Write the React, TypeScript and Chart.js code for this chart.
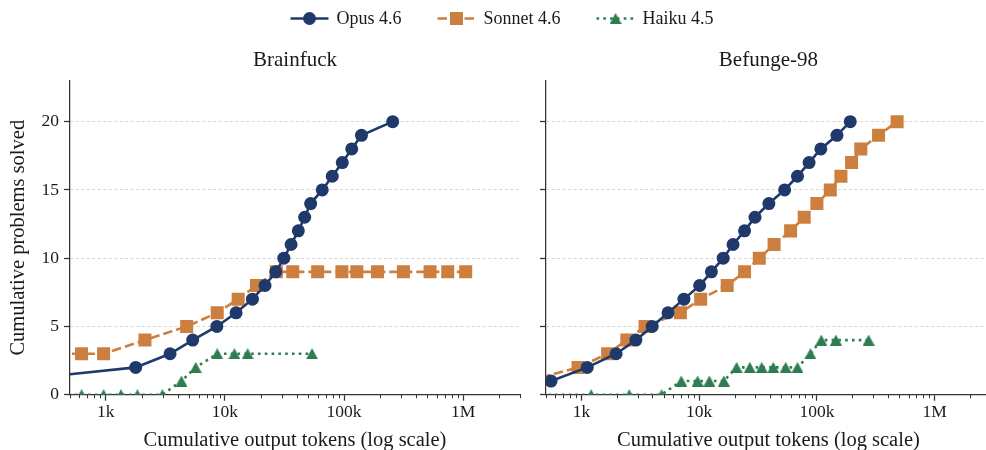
import React, { useEffect, useRef } from 'react';
import { Chart, registerables } from 'chart.js';

Chart.register(...registerables);

const FONT = "'Liberation Serif', 'Times New Roman', serif";
const TEXT = '#1a1a1a';
const AXIS = '#333333';
const GRID = '#cccccc';
const C_OPUS = '#1f396b';
const C_SONNET = '#cc7f3e';
const C_HAIKU = '#2e7d50';

// ---- data ----
const seriesNames = ['Opus 4.6', 'Sonnet 4.6', 'Haiku 4.5'];
const panelTitles = ['Brainfuck', 'Befunge-98'];
const xAxisTitle = 'Cumulative output tokens (log scale)';
const yAxisTitle = 'Cumulative problems solved';
const xTickValues = [1e3, 1e4, 1e5, 1e6];
const xTickLabels = ['1k', '10k', '100k', '1M'];
const xMinorMultipliers = [2, 3, 4, 5, 6, 7, 8, 9];
const xMinorExponents = [2, 3, 4, 5, 6];
const yTickValues = [0, 5, 10, 15, 20];

const bfOpusTokens = [145, 1780, 3460, 5360, 8550, 12400, 17000, 21700, 26700, 31200, 35900, 41300, 46700, 52400, 65600, 79600, 96600, 116000, 140000, 256000];
const bfOpusSolved = [1, 2, 3, 4, 5, 6, 7, 8, 9, 10, 11, 12, 13, 14, 15, 16, 17, 18, 19, 20];
const bfSonnetTokens = [400, 625, 957, 2130, 4770, 8610, 12900, 18400, 27000, 37100, 60000, 95900, 128000, 191000, 315000, 527000, 742000, 1050000];
const bfSonnetSolved = [3, 3, 3, 4, 5, 6, 7, 8, 9, 9, 9, 9, 9, 9, 9, 9, 9, 9];
const bfHaikuTokens = [420, 625, 957, 1340, 1840, 2980, 4310, 5680, 8610, 12000, 15500, 53800];
const bfHaikuSolved = [0, 0, 0, 0, 0, 0, 1, 2, 3, 3, 3, 3];

const bgOpusTokens = [552, 1120, 1970, 2900, 3990, 5440, 7420, 10100, 12700, 16000, 19400, 24300, 29800, 39100, 53200, 68400, 85800, 108000, 148000, 192000];
const bgOpusSolved = [1, 2, 3, 4, 5, 6, 7, 8, 9, 10, 11, 12, 13, 14, 15, 16, 17, 18, 19, 20];
const bgSonnetTokens = [350, 936, 1670, 2430, 3470, 6920, 10300, 17300, 24300, 32400, 43300, 59800, 78000, 100000, 130000, 160000, 197000, 236000, 334000, 480000];
const bgSonnetSolved = [1, 2, 3, 4, 5, 6, 7, 8, 9, 10, 11, 12, 13, 14, 15, 16, 17, 18, 19, 20];
const bgHaikuTokens = [400, 1210, 2550, 4790, 7050, 9700, 12200, 16200, 20800, 26900, 34000, 42600, 54300, 68400, 88100, 109000, 145000, 275000];
const bgHaikuSolved = [0, 0, 0, 0, 1, 1, 1, 1, 2, 2, 2, 2, 2, 2, 3, 4, 4, 4];

const X_MIN = 500;
const X_MAX = 3e6;
const Y_MIN = 0;
const Y_MAX = 23;

// ---- styles ----
const LINE_W = 2.6;
const OPUS_DASH: number[] = [];
const SONNET_DASH = [9.5, 4];
const HAIKU_DASH = [2.6, 4.2];
const CIRCLE_R = 6.5;
const RECT_R = 9.2;

function triangleImage(color: string, w: number, h: number) {
  const c = document.createElement('canvas');
  c.width = w;
  c.height = h;
  const g = c.getContext('2d')!;
  g.fillStyle = color;
  g.beginPath();
  g.moveTo(w / 2, 0);
  g.lineTo(w, h);
  g.lineTo(0, h);
  g.closePath();
  g.fill();
  return c;
}

function zip(xs: number[], ys: number[]) {
  return xs.map((x, i) => ({ x, y: ys[i] }));
}

function makeDatasets(
  oT: number[], oS: number[], sT: number[], sS: number[], hT: number[], hS: number[], tri: HTMLCanvasElement
) {
  return [
    {
      label: seriesNames[0], data: zip(oT, oS), borderColor: C_OPUS, backgroundColor: C_OPUS,
      borderWidth: LINE_W, borderDash: OPUS_DASH, pointStyle: 'circle', pointRadius: CIRCLE_R,
      pointBorderWidth: 0, pointBackgroundColor: C_OPUS, tension: 0, order: 0,
    },
    {
      label: seriesNames[1], data: zip(sT, sS), borderColor: C_SONNET, backgroundColor: C_SONNET,
      borderWidth: LINE_W, borderDash: SONNET_DASH, pointStyle: 'rect', pointRadius: RECT_R,
      pointBorderWidth: 0, pointBackgroundColor: C_SONNET, tension: 0, order: 1,
    },
    {
      label: seriesNames[2], data: zip(hT, hS), borderColor: C_HAIKU, backgroundColor: C_HAIKU,
      borderWidth: LINE_W, borderDash: HAIKU_DASH, pointStyle: tri, pointRadius: 6,
      pointBorderWidth: 0, pointBackgroundColor: C_HAIKU, tension: 0, order: 2,
    },
  ];
}

const minorTicksPlugin = {
  id: 'minorTicks',
  afterDraw(chart: any) {
    const s = chart.scales.x;
    const ctx = chart.ctx;
    const b = chart.chartArea.bottom;
    ctx.save();
    ctx.strokeStyle = AXIS;
    ctx.lineWidth = 1;
    for (const e of xMinorExponents) {
      for (const k of xMinorMultipliers) {
        const v = k * Math.pow(10, e);
        if (v < s.min || v > s.max) continue;
        const px = Math.round(s.getPixelForValue(v)) + 0.5;
        ctx.beginPath();
        ctx.moveTo(px, b);
        ctx.lineTo(px, b + 3.5);
        ctx.stroke();
      }
    }
    ctx.restore();
  },
};

function drawMarker(ctx: CanvasRenderingContext2D, style: any, x: number, y: number, r: number, color: string) {
  ctx.fillStyle = color;
  if (typeof style !== 'string') {
    ctx.drawImage(style, x - style.width / 2, y - style.height / 2);
    return;
  }
  ctx.beginPath();
  if (style === 'circle') {
    ctx.arc(x, y, r, 0, Math.PI * 2);
  } else {
    const s = r * Math.SQRT1_2;
    ctx.rect(x - s, y - s, 2 * s, 2 * s);
  }
  ctx.fill();
}

function makeLegendPlugin(centerX: number, y: number) {
  return {
    id: 'figLegend',
    afterDraw(chart: any) {
      const ctx: CanvasRenderingContext2D = chart.ctx;
      const ds = chart.data.datasets;
      ctx.save();
      ctx.font = `18px ${FONT}`;
      const handle = 38;
      const pad = 8;
      const spacing = 36;
      const widths = ds.map((d: any) => ctx.measureText(d.label).width);
      const total = widths.reduce((a: number, w: number) => a + handle + pad + w, 0) + spacing * (ds.length - 1);
      let x = centerX - total / 2;
      ds.forEach((d: any, i: number) => {
        ctx.strokeStyle = d.borderColor;
        ctx.lineWidth = d.borderWidth;
        ctx.setLineDash(d.borderDash || []);
        ctx.beginPath();
        ctx.moveTo(x, y);
        ctx.lineTo(x + handle, y);
        ctx.stroke();
        ctx.setLineDash([]);
        drawMarker(ctx, d.pointStyle, x + handle / 2, y, d.pointRadius, d.pointBackgroundColor);
        ctx.fillStyle = TEXT;
        ctx.textAlign = 'left';
        ctx.textBaseline = 'middle';
        ctx.fillText(d.label, x + handle + pad, y + 1);
        x += handle + pad + widths[i] + spacing;
      });
      ctx.restore();
    },
  };
}

function makeOptions(title: string, showYLabels: boolean, yWidth: number, padRight: number) {
  return {
    responsive: false,
    animation: false as const,
    events: [] as any[],
    layout: { padding: { top: 48.3, left: 0, right: padRight, bottom: 0 } },
    plugins: {
      legend: { display: false },
      tooltip: { enabled: false },
      title: {
        display: true,
        text: title,
        fullSize: false,
        color: TEXT,
        font: { family: FONT, size: 21, weight: 'normal' as const, lineHeight: 1.2 },
        padding: { top: 0, bottom: 7.2 },
      },
    },
    scales: {
      x: {
        type: 'logarithmic' as const,
        min: X_MIN,
        max: X_MAX,
        afterBuildTicks: (s: any) => {
          s.ticks = xTickValues.map((v) => ({ value: v, major: true }));
        },
        afterFit: (s: any) => {
          s.height = 55.3;
        },
        ticks: {
          autoSkip: false,
          maxRotation: 0,
          minRotation: 0,
          padding: 1,
          color: TEXT,
          font: { family: FONT, size: 17.5 },
          callback: (v: any) => {
            const i = xTickValues.indexOf(Number(v));
            return i >= 0 ? xTickLabels[i] : '';
          },
        },
        grid: { drawOnChartArea: false, drawTicks: true, tickLength: 6, tickColor: AXIS, tickWidth: 1.25 },
        border: { display: true, color: AXIS, width: 1.25 },
        title: {
          display: true,
          text: xAxisTitle,
          color: TEXT,
          font: { family: FONT, size: 20.5, lineHeight: 1.2 },
          padding: { top: 0, bottom: -3 },
        },
      },
      y: {
        type: 'linear' as const,
        min: Y_MIN,
        max: Y_MAX,
        afterBuildTicks: (s: any) => {
          s.ticks = yTickValues.map((v) => ({ value: v }));
        },
        afterFit: (s: any) => {
          s.width = yWidth;
        },
        ticks: {
          display: showYLabels,
          padding: 5,
          color: TEXT,
          font: { family: FONT, size: 17.5 },
        },
        grid: { color: GRID, lineWidth: 0.8, drawTicks: true, tickLength: 6, tickColor: AXIS, tickWidth: 1.25 },
        border: { display: true, color: AXIS, width: 1.25, dash: [3, 2.5] },
        title: {
          display: showYLabels,
          text: yAxisTitle,
          color: TEXT,
          font: { family: FONT, size: 20.5, lineHeight: 1.2 },
          padding: { top: 6, bottom: 0 },
        },
      },
    },
  };
}

export default function App() {
  const leftRef = useRef<HTMLCanvasElement | null>(null);
  const rightRef = useRef<HTMLCanvasElement | null>(null);

  useEffect(() => {
    Chart.defaults.font.family = FONT;
    const tri = triangleImage(C_HAIKU, 12, 11);
    const left = new Chart(leftRef.current!, {
      type: 'line',
      data: { datasets: makeDatasets(bfOpusTokens, bfOpusSolved, bfSonnetTokens, bfSonnetSolved, bfHaikuTokens, bfHaikuSolved, tri) as any },
      options: makeOptions(panelTitles[0], true, 70, 466) as any,
      plugins: [minorTicksPlugin, makeLegendPlugin(502, 18.5)],
    });
    const right = new Chart(rightRef.current!, {
      type: 'line',
      data: { datasets: makeDatasets(bgOpusTokens, bgOpusSolved, bgSonnetTokens, bgSonnetSolved, bgHaikuTokens, bgHaikuSolved, tri) as any },
      options: makeOptions(panelTitles[1], false, 16, 4) as any,
      plugins: [minorTicksPlugin],
    });
    return () => {
      left.destroy();
      right.destroy();
    };
  }, []);

  return (
    <div style={{ position: 'fixed', left: 0, top: 0, width: 986, height: 450, overflow: 'hidden', background: '#ffffff' }}>
      <canvas ref={leftRef} width={986} height={450} style={{ position: 'absolute', left: 0, top: 0 }} />
      <canvas ref={rightRef} width={470} height={450} style={{ position: 'absolute', left: 530, top: 0 }} />
    </div>
  );
}
